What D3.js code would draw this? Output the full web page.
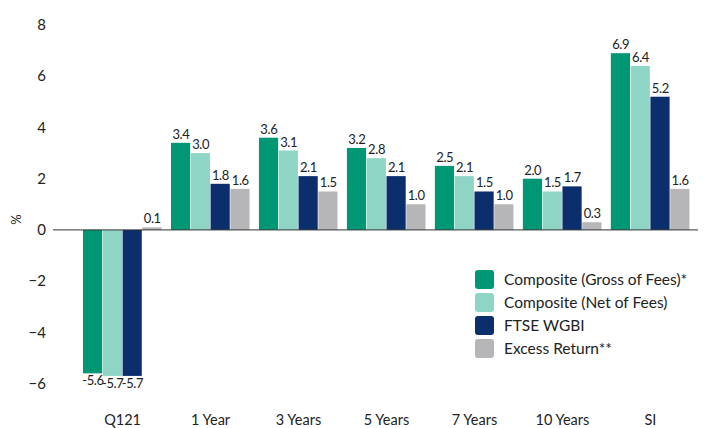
<!DOCTYPE html>
<html>
<head>
<meta charset="utf-8">
<script src="https://cdn.jsdelivr.net/npm/d3@7"></script>
<style>
  body { margin: 0; background: #fff; }
  text { font-family: Lato, "Open Sans", sans-serif; fill: #222; }
</style>
</head>
<body>
<div id="chart"></div>
<script>
// chart data
var categories = ["Q121", "1 Year", "3 Years", "5 Years", "7 Years", "10 Years", "SI"];
var seriesNames = ["Composite (Gross of Fees)*", "Composite (Net of Fees)", "FTSE WGBI", "Excess Return**"];
var gross = [-5.6, 3.4, 3.6, 3.2, 2.5, 2.0, 6.9];
var net = [-5.7, 3.0, 3.1, 2.8, 2.1, 1.5, 6.4];
var wgbi = [-5.7, 1.8, 2.1, 2.1, 1.5, 1.7, 5.2];
var excess = [0.1, 1.6, 1.5, 1.0, 1.0, 0.3, 1.6];
var yTicks = [-6, -4, -2, 0, 2, 4, 6, 8];
var colors = ["#009774", "#8ed5c5", "#0b2e6d", "#b6b6b8"];

var width = 704, height = 428;
var series = [gross, net, wgbi, excess];

var svg = d3.select("#chart").append("svg")
  .attr("width", width)
  .attr("height", height);

var y = d3.scaleLinear().domain([-6, 8]).range([383.6, 25]);

var x0 = d3.scaleBand()
  .domain(categories)
  .range([78.6, 694.4])
  .paddingInner(0.1)
  .paddingOuter(0.05);

var x1 = d3.scaleBand()
  .domain(d3.range(4))
  .range([0, x0.bandwidth()]);

// y axis labels
svg.append("g").selectAll("text")
  .data(yTicks)
  .enter().append("text")
  .attr("x", 46)
  .attr("y", function(d) { return y(d); })
  .attr("dy", "0.35em")
  .attr("text-anchor", "end")
  .style("font-size", "15px")
  .text(function(d) { return d < 0 ? "\u2212" + Math.abs(d) : d; });

svg.append("text")
  .attr("transform", "translate(21," + y(0.4) + ") rotate(-90)")
  .attr("text-anchor", "middle")
  .style("font-size", "13px")
  .text("%");

// bars
var groups = svg.selectAll("g.grp")
  .data(categories)
  .enter().append("g")
  .attr("class", "grp")
  .attr("transform", function(d) { return "translate(" + x0(d) + ",0)"; });

groups.each(function(cat, ci) {
  var g = d3.select(this);
  var rows = series.map(function(s, si) { return { si: si, v: s[ci] }; });

  g.selectAll("rect")
    .data(rows)
    .enter().append("rect")
    .attr("x", function(d) { return x1(d.si); })
    .attr("width", x1.bandwidth() - 0.6)
    .attr("y", function(d) { return y(Math.max(0, d.v)); })
    .attr("height", function(d) { return Math.abs(y(d.v) - y(0)); })
    .attr("fill", function(d) { return colors[d.si]; });

  g.selectAll("text.val")
    .data(rows)
    .enter().append("text")
    .attr("class", "val")
    .attr("x", function(d) { return x1(d.si) + x1.bandwidth() / 2; })
    .attr("y", function(d) { return d.v >= 0 ? y(d.v) - 4 : y(d.v) + 12; })
    .attr("text-anchor", "middle")
    .style("font-size", "13px")
    .style("letter-spacing", "-0.4px")
    .text(function(d) { return d.v.toFixed(1); });
});

// zero line
svg.append("line")
  .attr("x1", 53).attr("x2", 698)
  .attr("y1", y(0)).attr("y2", y(0))
  .attr("stroke", "#333")
  .attr("stroke-width", 1);

// category labels
svg.append("g").selectAll("text")
  .data(categories)
  .enter().append("text")
  .attr("x", function(d) { return x0(d) + x0.bandwidth() / 2; })
  .attr("y", 425)
  .attr("text-anchor", "middle")
  .style("font-size", "14.5px")
  .text(function(d) { return d; });

// legend
var legend = svg.append("g").attr("transform", "translate(475,270)");
var items = legend.selectAll("g")
  .data(seriesNames)
  .enter().append("g")
  .attr("transform", function(d, i) { return "translate(0," + i * 23 + ")"; });

items.append("rect")
  .attr("width", 19).attr("height", 19)
  .attr("rx", 3)
  .attr("fill", function(d, i) { return colors[i]; });

items.append("text")
  .attr("x", 29)
  .attr("y", 10)
  .attr("dy", "0.35em")
  .style("font-size", "15.5px")
  .text(function(d) { return d; });
</script>
</body>
</html>
